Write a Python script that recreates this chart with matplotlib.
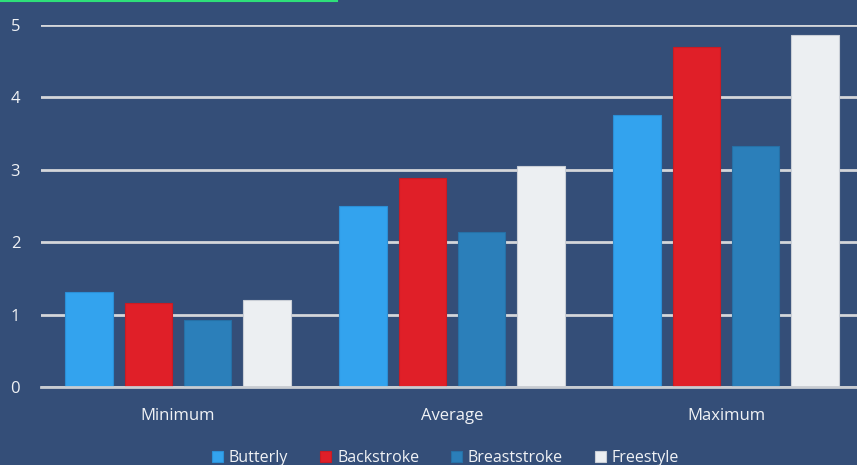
import numpy as np
import matplotlib.pyplot as plt
from matplotlib.lines import Line2D

# Values
categories = ['Minimum', 'Average', 'Maximum']
strokes = ['Butterly', 'Backstroke', 'Breaststroke', 'Freestyle']
butterfly = [1.31, 2.50, 3.76]
backstroke = [1.16, 2.89, 4.70]
breaststroke = [0.93, 2.14, 3.33]
freestyle = [1.20, 3.05, 4.86]
y_ticks = [0, 1, 2, 3, 4, 5]

BG = '#344e78'
COLORS = ['#33a3ee', '#e01f28', '#2b7fba', '#eceff2']
EDGES = ['#2b8fd6', '#c81c24', '#2670a6', '#c9ced6']
GRID = '#d4d6da'

plt.rcParams['font.family'] = ['Open Sans', 'DejaVu Sans']

fig = plt.figure(figsize=(8.57, 4.65), dpi=100, facecolor=BG)
# axes spans 41px .. 863px horizontally, 0 at 387px and 5 at 25px
ax = fig.add_axes([41 / 857, 1 - 387 / 465, 822 / 857, 362 / 465])
ax.set_facecolor(BG)

series = [butterfly, backstroke, breaststroke, freestyle]
x = np.arange(len(categories))
step = 0.217
width = 0.173
for i, vals in enumerate(series):
    ax.bar(x + (i - 1.5) * step, vals, width, color=COLORS[i],
           edgecolor=EDGES[i], linewidth=0.8, zorder=3, label=strokes[i])

ax.set_xlim(-0.5, 2.5)
ax.set_ylim(0, 5)
ax.set_yticks(y_ticks)
ax.yaxis.grid(True, color=GRID, linewidth=2, zorder=0)
ax.set_axisbelow(True)
for s in ['top', 'right', 'left']:
    ax.spines[s].set_visible(False)
ax.spines['bottom'].set_color('#c8ccd2')
ax.spines['bottom'].set_linewidth(2)
ax.spines['bottom'].set_zorder(4)

ax.set_xticks(x)
ax.set_xticklabels(categories)
ax.tick_params(axis='both', length=0, colors='#f0f2f5', labelsize=12)
ax.tick_params(axis='x', pad=15)
ax.tick_params(axis='y', pad=15)

leg = fig.legend(loc='center', bbox_to_anchor=(0.52, 1 - 458 / 465), ncol=4,
                 frameon=False, fontsize=11.5, handlelength=0.7, handleheight=0.7,
                 handletextpad=0.35, columnspacing=2.0, labelcolor='#f0f2f5')

# thin green strip along the top left edge of the screenshot
fig.add_artist(Line2D([0, 337 / 857], [0.998, 0.998], color='#2ee07a',
                      linewidth=1.5, transform=fig.transFigure))

fig.savefig('out.png', dpi=100, facecolor=BG)
